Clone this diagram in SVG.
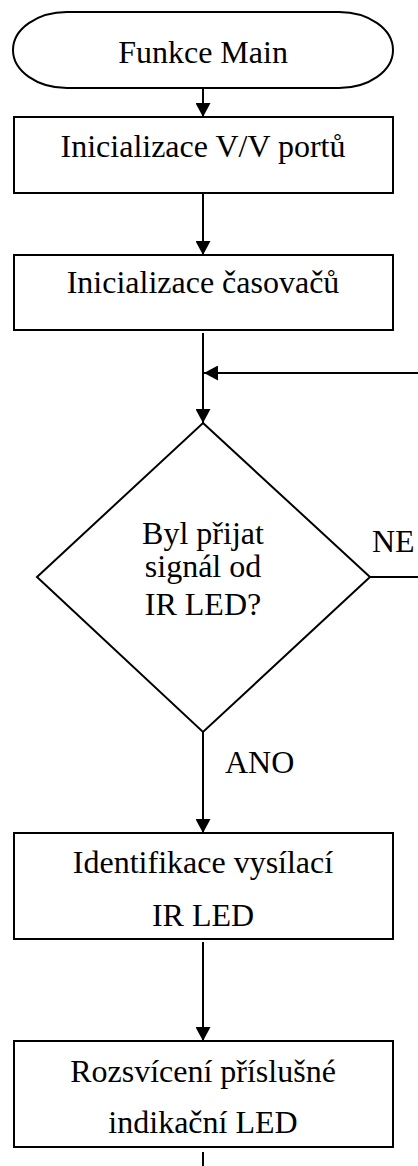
<svg xmlns="http://www.w3.org/2000/svg" width="418" height="1166" viewBox="0 0 418 1166">
<defs>
<style>
.shape{fill:#fff;stroke:#000;stroke-width:2}
.conn{fill:none;stroke:#000;stroke-width:2}
text{font-family:"Liberation Serif","Times New Roman",serif;font-size:32px;fill:#000}
.c{text-anchor:middle}
</style>
<marker id="arr" viewBox="0 0 14 15" refX="14" refY="7.5" markerWidth="14" markerHeight="15" markerUnits="userSpaceOnUse" orient="auto">
<path d="M0,0 L14,7.5 L0,15 Z" fill="#000"/>
</marker>
</defs>
<rect width="418" height="1166" fill="#fff"/>
<g id="connectors">
<line class="conn" x1="203" y1="88" x2="203" y2="117" marker-end="url(#arr)"/>
<line class="conn" x1="203" y1="194" x2="203" y2="255" marker-end="url(#arr)"/>
<line class="conn" x1="203" y1="333" x2="203" y2="423" marker-end="url(#arr)"/>
<line class="conn" x1="418" y1="373" x2="204" y2="373" marker-end="url(#arr)"/>
<line class="conn" x1="370" y1="577" x2="418" y2="577"/>
<line class="conn" x1="203" y1="732" x2="203" y2="833" marker-end="url(#arr)"/>
<line class="conn" x1="203" y1="942" x2="203" y2="1041" marker-end="url(#arr)"/>
<line class="conn" x1="203" y1="1152" x2="203" y2="1166"/>
<text x="372" y="552">NE</text>
<text x="225" y="773">ANO</text>
</g>
<g id="start">
<path class="shape" d="M67,12 H339 A54,38 0 0 1 339,88 H67 A54,38 0 0 1 67,12 Z"/>
<text class="c" x="203" y="63">Funkce Main</text>
</g>
<g id="init-io">
<rect class="shape" x="14" y="117" width="379" height="76"/>
<text class="c" x="203" y="157">Inicializace V/V portů</text>
</g>
<g id="init-timers">
<rect class="shape" x="14" y="255" width="379" height="75"/>
<text class="c" x="203" y="293">Inicializace časovačů</text>
</g>
<g id="decision">
<polygon class="shape" points="203,423 370,577 203,732 37,577"/>
<text class="c" x="203" y="544">Byl přijat</text>
<text class="c" x="203" y="577">signál od</text>
<text class="c" x="203" y="615">IR LED?</text>
</g>
<g id="identify">
<rect class="shape" x="14" y="833" width="379" height="106"/>
<text class="c" x="203" y="873">Identifikace vysílací</text>
<text class="c" x="203" y="926">IR LED</text>
</g>
<g id="light">
<rect class="shape" x="14" y="1041" width="379" height="106"/>
<text class="c" x="203" y="1082">Rozsvícení příslušné</text>
<text class="c" x="203" y="1133">indikační LED</text>
</g>
</svg>
